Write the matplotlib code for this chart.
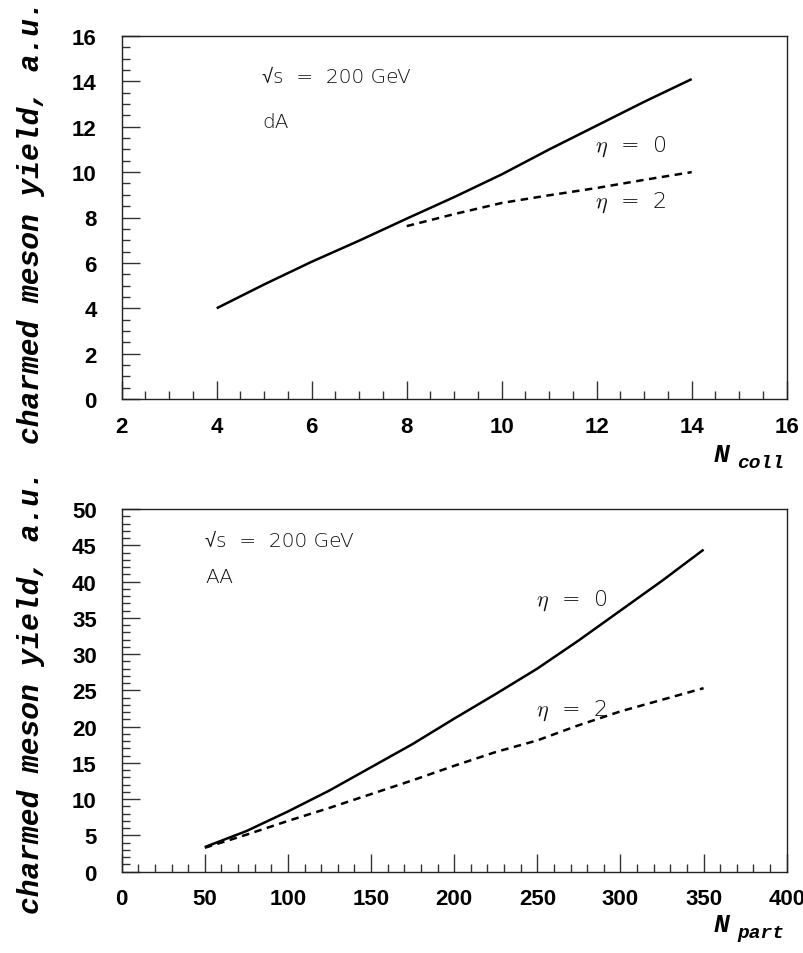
import matplotlib
matplotlib.use("Agg")
import matplotlib.pyplot as plt
from matplotlib.ticker import MultipleLocator

plt.rcParams["mathtext.fontset"] = "cm"

# d+A collisions: yield vs number of binary collisions
dA_ncoll_eta0 = [4, 5, 6, 7, 8, 9, 10, 11, 12, 13, 14]
dA_yield_eta0 = [4.0, 5.05, 6.05, 6.98, 7.95, 8.9, 9.9, 11.0, 12.05, 13.1, 14.1]
dA_ncoll_eta2 = [8, 9, 10, 11, 12, 13, 14]
dA_yield_eta2 = [7.62, 8.15, 8.64, 8.98, 9.3, 9.66, 10.0]

# A+A collisions: yield vs number of participants
AA_npart = [50, 75, 100, 125, 150, 175, 200, 225, 250, 275, 300, 325, 350]
AA_yield_eta0 = [3.4, 5.6, 8.3, 11.2, 14.4, 17.6, 21.1, 24.5, 28.0, 31.9, 36.0, 40.1, 44.4]
AA_yield_eta2 = [3.3, 5.1, 7.0, 8.8, 10.7, 12.6, 14.6, 16.5, 18.1, 20.2, 22.1, 23.7, 25.3]

W, H = 804, 954
fig = plt.figure(figsize=(W / 100, H / 100), dpi=100)


def fx(px):
    return px / W


def fy(py):
    return 1 - py / H


tick_font = dict(family="Liberation Sans", weight="bold", size=16)
thin_family = ["DejaVu Sans", "Liberation Sans"]
note_font = dict(family=thin_family, weight="light", size=14.5, color="#111111")
mono = "Liberation Mono"


def style_axes(ax, xmaj, xmin, ymaj, ymin):
    ax.xaxis.set_major_locator(MultipleLocator(xmaj))
    ax.xaxis.set_minor_locator(MultipleLocator(xmin))
    ax.yaxis.set_major_locator(MultipleLocator(ymaj))
    ax.yaxis.set_minor_locator(MultipleLocator(ymin))
    ax.tick_params(which="both", direction="in", top=False, right=False,
                   color="#333333", width=1.0)
    ax.tick_params(which="major", length=13)
    ax.tick_params(which="minor", length=5.8)
    ax.tick_params(axis="y", which="major", pad=18)
    ax.tick_params(axis="x", which="major", pad=12)
    for lab in ax.get_xticklabels() + ax.get_yticklabels():
        lab.set_fontfamily(tick_font["family"])
        lab.set_fontweight(tick_font["weight"])
        lab.set_fontsize(tick_font["size"])
    for s in ax.spines.values():
        s.set_linewidth(1.0)
        s.set_color("#222222")


# ---- top panel: dA ----
ax1 = fig.add_axes([fx(121.7), fy(400), fx(665), 363 / H])
ax1.plot(dA_ncoll_eta0, dA_yield_eta0, color="black", lw=1.8, solid_capstyle="butt")
ax1.plot(dA_ncoll_eta2, dA_yield_eta2, color="black", lw=1.8, ls=(0, (3, 2.2)))
ax1.set_xlim(2, 16)
ax1.set_ylim(0, 16)
style_axes(ax1, 2, 0.5, 2, 0.5)

# ---- bottom panel: AA ----
ax2 = fig.add_axes([fx(121.7), fy(872.7), fx(665), 362.7 / H])
ax2.plot(AA_npart, AA_yield_eta0, color="black", lw=1.8, solid_capstyle="butt")
ax2.plot(AA_npart, AA_yield_eta2, color="black", lw=1.8, ls=(0, (3, 2.2)))
ax2.set_xlim(0, 400)
ax2.set_ylim(0, 50)
style_axes(ax2, 50, 10, 5, 1)

# annotations
energy = "\u221as  =  200 GeV"
fig.text(fx(262), fy(83), energy, va="baseline", **note_font)
fig.text(fx(262), fy(128), "dA", va="baseline", **note_font)
fig.text(fx(205), fy(547), energy, va="baseline", **note_font)
fig.text(fx(205), fy(582.7), "AA", va="baseline", **note_font)

eta_kw = dict(va="baseline", ha="left", family=thin_family, weight="light",
              size=16, color="#111111")
fig.text(fx(595), fy(152), r"$\eta$  =  0", **eta_kw)
fig.text(fx(595), fy(208), r"$\eta$  =  2", **eta_kw)
fig.text(fx(536), fy(605.7), r"$\eta$  =  0", **eta_kw)
fig.text(fx(536), fy(715.7), r"$\eta$  =  2", **eta_kw)

# axis titles
ylab_kw = dict(family=mono, weight="bold", style="italic", size=21.3,
               rotation=90, ha="center", va="center")
fig.text(fx(31), fy(222), "charmed meson yield, a.u.", **ylab_kw)
fig.text(fx(31), fy(692), "charmed meson yield, a.u.", **ylab_kw)

n_kw = dict(family=mono, weight="bold", style="italic", size=19, va="baseline")
sub_kw = dict(family=mono, weight="bold", style="italic", size=14, va="baseline")
fig.text(fx(714), fy(462), "N", **n_kw)
fig.text(fx(737), fy(468), "coll", **sub_kw)
fig.text(fx(714), fy(932), "N", **n_kw)
fig.text(fx(737), fy(938), "part", **sub_kw)

fig.savefig("out.png", dpi=100, facecolor="white")
